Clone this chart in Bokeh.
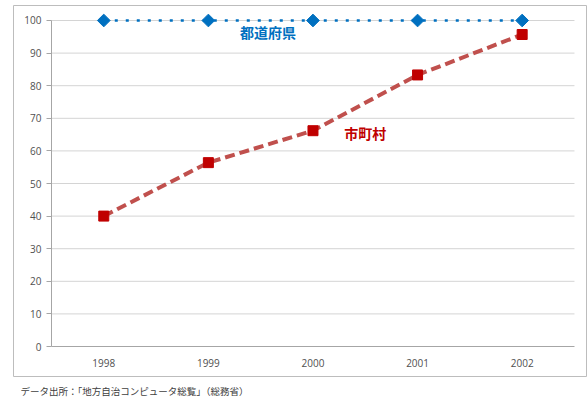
import math
from bokeh.plotting import figure
from bokeh.models import Range1d, FixedTicker, Label, Title
from bokeh.embed import file_html
from bokeh.resources import INLINE

years = ["1998", "1999", "2000", "2001", "2002"]
prefectures = [100, 100, 100, 100, 100]
municipalities = [40.0, 56.4, 66.2, 83.3, 95.7]
y_ticks = [0, 10, 20, 30, 40, 50, 60, 70, 80, 90, 100]
caption = "データ出所：「地方自治コンピュータ総覧」（総務省）"

JP = "Noto Sans CJK JP"
xs = list(range(len(years)))
x_lo, x_hi = -0.5, len(years) - 0.5

# frame = outer chart-area box; plot area sits inside it
p = figure(width=587, height=403, output_backend="svg", toolbar_location=None,
           x_range=Range1d(x_lo - 0.363, x_hi + 0.115), y_range=Range1d(-9.2, 104.6),
           min_border_left=13, min_border_right=1, min_border_top=5, min_border_bottom=27)
p.outline_line_color = "#bdbdbd"
p.outline_line_width = 1
p.background_fill_color = "white"
p.border_fill_color = "white"

# axes placed at the plot-area edges inside the box
p.xaxis.fixed_location = 0
p.xaxis.bounds = (x_lo, x_hi)
p.xaxis.ticker = FixedTicker(ticks=xs)
p.xaxis.major_label_overrides = {i: y for i, y in enumerate(years)}
p.xaxis.major_tick_line_color = None
p.xaxis.minor_tick_line_color = None
p.xaxis.axis_line_color = "#a6a6a6"
p.xaxis.major_label_text_font_size = "10px"
p.xaxis.major_label_text_color = "#505050"
p.xaxis.major_label_text_font = "Open Sans"
p.xaxis.major_label_standoff = 6

p.yaxis.fixed_location = x_lo
p.yaxis.bounds = (0, 100)
p.yaxis.ticker = FixedTicker(ticks=y_ticks)
p.yaxis.axis_line_color = "#a6a6a6"
p.yaxis.major_tick_line_color = "#a6a6a6"
p.yaxis.major_tick_out = 5
p.yaxis.major_tick_in = 0
p.yaxis.minor_tick_line_color = None
p.yaxis.major_label_text_font_size = "10px"
p.yaxis.major_label_text_color = "#505050"
p.yaxis.major_label_text_font = "Open Sans"
p.yaxis.major_label_standoff = 5

p.grid.visible = False
# horizontal gridlines across the plot area only
p.segment(x0=[x_lo] * len(y_ticks[1:]), x1=[x_hi] * len(y_ticks[1:]),
          y0=y_ticks[1:], y1=y_ticks[1:], line_color="#d4d4d4", line_width=1)

# series
p.line(xs, municipalities, line_color="#c0504d", line_width=4, line_dash="10 5")
p.scatter(xs, municipalities, marker="square", size=10, fill_color="#c00000",
          line_color="#c00000")
p.line(xs, prefectures, line_color="#0070c0", line_width=2.5, line_dash="3 8")
p.scatter(xs, prefectures, marker="square", size=9, angle=math.pi / 4,
          fill_color="#0070c0", line_color="#0070c0")

p.add_layout(Label(x=1.57, y=96.4, text="都道府県", text_align="center",
                   text_baseline="middle", text_font=JP, text_font_size="14px",
                   text_font_style="bold", text_color="#0070c0"))
p.add_layout(Label(x=2.5, y=65.6, text="市町村", text_align="center",
                   text_baseline="middle", text_font=JP, text_font_size="14px",
                   text_font_style="bold", text_color="#c00000"))

# caption below the box
p.add_layout(Title(text=caption, align="left", offset=7, standoff=10,
                   text_font=JP, text_font_size="9.5px", text_font_style="normal",
                   text_color="#404040"), "below")

open("out.html", "w").write(file_html(p, INLINE))
